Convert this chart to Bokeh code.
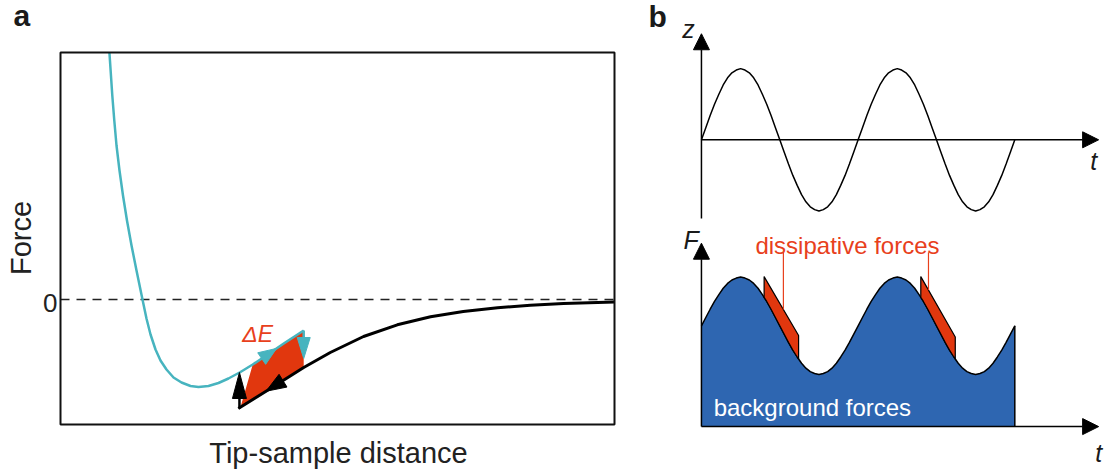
import numpy as np
from bokeh.plotting import figure
from bokeh.models import Range1d, Label, Arrow, NormalHead
from bokeh.layouts import row, column
from bokeh.embed import file_html
from bokeh.resources import INLINE

FONT = "Liberation Sans"
CYAN = "#47b4bf"
RED = "#e1370e"
RED_TEXT = "#e8401c"
BLUE = "#2e66b1"
INK = "#1a1a1a"

# ---------------- panel a: force vs. tip-sample distance ----------------
# upper branch (cyan): repulsive wall, attractive well, then the ramp that
# bounds the hysteresis loop from above
upper_dist = [0.883, 0.935, 0.971, 1.011, 1.065, 1.128, 1.200, 1.282, 1.372, 1.480,
              1.552, 1.625, 1.715, 1.805, 1.913, 2.040, 2.184, 2.347, 2.491, 2.671, 2.852,
              3.032, 3.249, 3.47, 3.66, 4.03, 4.39]
upper_force = [2.47, 2.04, 1.79, 1.54, 1.29, 1.04, 0.79, 0.54, 0.29, 0.00,
               -0.19, -0.35, -0.50, -0.61, -0.70, -0.78, -0.83, -0.865, -0.875, -0.865, -0.835,
               -0.79, -0.725, -0.65, -0.58, -0.44, -0.31]
# lower branch (black): long-range attraction decaying to zero
lower_dist = [3.21, 3.79, 4.39, 4.87, 5.47, 6.08, 6.68, 7.27, 7.89, 8.48, 9.08, 10.0]
lower_force = [-1.09, -0.89, -0.68, -0.53, -0.37, -0.253, -0.173, -0.12, -0.082, -0.058, -0.041, -0.025]
# distance interval enclosed by the hysteresis loop (energy dissipated, ΔE)
loop_start, loop_end = 3.25, 4.39

dist_box = (0.0, 10.0)      # plotted distance window
force_box = (-1.25, 2.47)   # plotted force window
zero_tick = [0]

# the plot box is drawn explicitly, so the frame spans the whole canvas
px_per_dist, px_per_force = 55.4, 100.0
pa = figure(width=640, height=473,
            x_range=Range1d(-60 / px_per_dist, 580 / px_per_dist),
            y_range=Range1d(-174 / px_per_force, 299 / px_per_force),
            x_axis_type=None, y_axis_type=None, output_backend="svg",
            toolbar_location=None, title=None, min_border=0,
            background_fill_color="white", border_fill_color="white")
pa.outline_line_color = None
pa.grid.visible = False

pa.segment(dist_box[0], 0, dist_box[1], 0, line_color="#222222", line_width=1.5, line_dash="9 7")

# hysteresis loop area between the two branches
ud, uf = np.array(upper_dist), np.array(upper_force)
ld, lf = np.array(lower_dist), np.array(lower_force)
top_mask = (ud >= loop_start) & (ud <= loop_end)
bot_mask = (ld > loop_start) & (ld < loop_end)
loop_x = list(ud[top_mask]) + [loop_end] + list(ld[bot_mask][::-1]) + [loop_start]
loop_y = (list(uf[top_mask]) + [np.interp(loop_end, ld, lf)]
          + list(lf[bot_mask][::-1]) + [np.interp(loop_start, ld, lf)])
pa.patch(loop_x, loop_y, fill_color=RED, line_color=None)

pa.line(lower_dist, lower_force, line_color="black", line_width=3, line_join="round")
pa.line(upper_dist, upper_force, line_color=CYAN, line_width=2.5, line_join="round")


def head_patch(p, tip, direction, length, width, color):
    """Filled arrowhead of given pixel length/width pointing along direction."""
    sx, sy = px_per_dist, px_per_force
    dx, dy = direction[0] * sx, direction[1] * sy
    n = np.hypot(dx, dy)
    ux, uy = dx / n, dy / n
    bx, by = -ux * length, -uy * length
    nx, ny = -uy * width / 2, ux * width / 2
    xs = [tip[0], tip[0] + (bx + nx) / sx, tip[0] + (bx - nx) / sx]
    ys = [tip[1], tip[1] + (by + ny) / sy, tip[1] + (by - ny) / sy]
    p.patch(xs, ys, fill_color=color, line_color=color, line_width=1)
    return tip[0] + bx / sx, tip[1] + by / sy


# jump up at the left end of the loop (black)
jump_up_x = 3.23
bx0, by0 = head_patch(pa, (jump_up_x, -0.73), (0, 1), 26, 14, "black")
pa.segment(jump_up_x, -1.09, bx0, by0, line_color="black", line_width=2.5)
# approach along the lower branch (black)
tip_d = 3.71
head_patch(pa, (tip_d, float(np.interp(tip_d, ld, lf))), (-0.58, -0.20), 20, 15, "black")
# retraction along the upper branch (cyan)
tip_u = 3.90
head_patch(pa, (tip_u, float(np.interp(tip_u, ud, uf))), (0.37, 0.14), 18, 14, CYAN)
# jump down at the right end of the loop (cyan)
bx1, by1 = head_patch(pa, (loop_end, -0.59), (0, -1), 21, 13, CYAN)
pa.segment(loop_end, upper_force[-1], bx1, by1, line_color=CYAN, line_width=2.5)

# plot box
pa.quad(left=dist_box[0], right=dist_box[1], bottom=force_box[0], top=force_box[1],
        fill_color=None, line_color="#111111", line_width=2)

pa.add_layout(Label(x=3.28, y=-0.34, text="ΔE", text_font=FONT, text_font_size="23px",
                    text_font_style="italic", text_color=RED_TEXT, text_baseline="alphabetic"))
for tick in zero_tick:
    pa.add_layout(Label(x=-0.054, y=tick - 0.03, text=str(tick), text_font=FONT,
                        text_font_size="26px", text_color="#222222", text_align="right",
                        text_baseline="alphabetic"))
pa.add_layout(Label(x=-0.722, y=0.615, angle=np.pi / 2, text="Force", text_font=FONT,
                    text_font_size="29px", text_color="#222222", text_align="center",
                    text_baseline="alphabetic"))
pa.add_layout(Label(x=5.018, y=-1.53, text="Tip-sample distance", text_font=FONT,
                    text_font_size="29px", text_color="#222222", text_align="center",
                    text_baseline="alphabetic"))
pa.add_layout(Label(x=13, y=458, x_units="screen", y_units="screen", text="a",
                    text_font=FONT, text_font_size="30px", text_font_style="bold",
                    text_color=INK, text_baseline="alphabetic"))

# ---------------- panel b: oscillation z(t) and force F(t) ----------------
t = np.linspace(0, 2, 73)  # two oscillation periods, 10° sampling
z_vals = [0, 0.17, 0.34, 0.5, 0.64, 0.77, 0.87, 0.94, 0.98, 1, 0.98, 0.94, 0.87, 0.77, 0.64, 0.5, 0.34, 0.17,
          0, -0.17, -0.34, -0.5, -0.64, -0.77, -0.87, -0.94, -0.98, -1, -0.98, -0.94, -0.87, -0.77, -0.64, -0.5, -0.34, -0.17,
          0, 0.17, 0.34, 0.5, 0.64, 0.77, 0.87, 0.94, 0.98, 1, 0.98, 0.94, 0.87, 0.77, 0.64, 0.5, 0.34, 0.17,
          0, -0.17, -0.34, -0.5, -0.64, -0.77, -0.87, -0.94, -0.98, -1, -0.98, -0.94, -0.87, -0.77, -0.64, -0.5, -0.34, -0.17,
          0]
F_vals = [2.07, 2.24, 2.41, 2.57, 2.71, 2.84, 2.94, 3.01, 3.05, 3.07, 3.05, 3.01, 2.94, 2.84, 2.71, 2.57, 2.41, 2.24,
          2.07, 1.90, 1.73, 1.57, 1.43, 1.30, 1.20, 1.13, 1.09, 1.07, 1.09, 1.13, 1.20, 1.30, 1.43, 1.57, 1.73, 1.90,
          2.07, 2.24, 2.41, 2.57, 2.71, 2.84, 2.94, 3.01, 3.05, 3.07, 3.05, 3.01, 2.94, 2.84, 2.71, 2.57, 2.41, 2.24,
          2.07, 1.90, 1.73, 1.57, 1.43, 1.30, 1.20, 1.13, 1.09, 1.07, 1.09, 1.13, 1.20, 1.30, 1.43, 1.57, 1.73, 1.90,
          2.07]
# dissipative force bursts on the retracting flank of each cycle
diss_start = [0.40, 1.40]
diss_end = [0.62, 1.62]
diss_top_start = [3.08, 3.08]
diss_top_end = [1.87, 1.84]
leader_t = [0.523, 1.449]
leader_top = 3.58

t_range = (-0.389, 2.598)
t_axis_end = 2.535


def bare_fig(h, yr):
    f = figure(width=468, height=h, x_range=Range1d(*t_range), y_range=Range1d(*yr),
               x_axis_type=None, y_axis_type=None, output_backend="svg",
               toolbar_location=None, title=None, min_border=0,
               background_fill_color="white", border_fill_color="white")
    f.outline_line_color = None
    f.grid.visible = False
    return f


def axis_arrow(f, x0, y0, x1, y1):
    f.add_layout(Arrow(end=NormalHead(size=16, fill_color="black", line_color="black", line_width=1),
                       x_start=x0, y_start=y0, x_end=x1, y_end=y1,
                       line_color="black", line_width=1.5))


# top: tip position z(t)
b1 = bare_fig(222, (-1.161, 1.956))
b1.line(t, z_vals, line_color="black", line_width=1.5)
axis_arrow(b1, 0, -1.105, 0, 1.489)
axis_arrow(b1, 0, 0, t_axis_end, 0)
b1.add_layout(Label(x=-0.123, y=1.56, text="z", text_font=FONT, text_font_size="25px",
                    text_font_style="italic", text_color=INK, text_baseline="alphabetic"))
b1.add_layout(Label(x=2.482, y=-0.30, text="t", text_font=FONT, text_font_size="25px",
                    text_font_style="italic", text_color=INK, text_baseline="alphabetic"))
b1.add_layout(Label(x=8, y=206, x_units="screen", y_units="screen", text="b",
                    text_font=FONT, text_font_size="30px", text_font_style="bold",
                    text_color=INK, text_baseline="alphabetic"))

# bottom: force F(t)
b2 = bare_fig(251, (-0.963, 4.191))
b2.varea(x=t, y1=0, y2=F_vals, fill_color=BLUE)
b2.line(t, F_vals, line_color="black", line_width=1.5)
b2.segment(t[-1], 0, t[-1], F_vals[-1], line_color="black", line_width=1.5)

strip_xs, strip_ys = [], []
for ta, tb, fa, fb in zip(diss_start, diss_end, diss_top_start, diss_top_end):
    inner = [tt for tt in t if ta < tt < tb]
    edge_t = [ta] + inner + [tb]
    edge_f = list(np.interp(edge_t, t, F_vals))
    strip_xs.append([ta, tb] + edge_t[::-1])
    strip_ys.append([fa, fb] + edge_f[::-1])
b2.patches(strip_xs, strip_ys, fill_color=RED, line_color="black", line_width=1.2)

leader_bottom = []
for lt, ta, tb, fa, fb in zip(leader_t, diss_start, diss_end, diss_top_start, diss_top_end):
    leader_bottom.append(fa + (lt - ta) / (tb - ta) * (fb - fa))
b2.segment(leader_t, [leader_top] * len(leader_t), leader_t, leader_bottom,
           line_color=RED_TEXT, line_width=1.2)

axis_arrow(b2, 0, 0, 0, 3.766)
axis_arrow(b2, 0, 0, t_axis_end, 0)
b2.add_layout(Label(x=0.932, y=3.72, text="dissipative forces", text_font=FONT,
                    text_font_size="24px", text_color=RED_TEXT, text_align="center",
                    text_baseline="alphabetic"))
b2.add_layout(Label(x=0.078, y=0.39, text="background forces", text_font=FONT,
                    text_font_size="24px", text_color="white", text_baseline="alphabetic"))
b2.add_layout(Label(x=-0.115, y=3.84, text="F", text_font=FONT, text_font_size="25px",
                    text_font_style="italic", text_color=INK, text_baseline="alphabetic"))
b2.add_layout(Label(x=2.514, y=-0.54, text="t", text_font=FONT, text_font_size="25px",
                    text_font_style="italic", text_color=INK, text_baseline="alphabetic"))

layout = row(pa, column(b1, b2))
open("out.html", "w").write(file_html(layout, INLINE))
